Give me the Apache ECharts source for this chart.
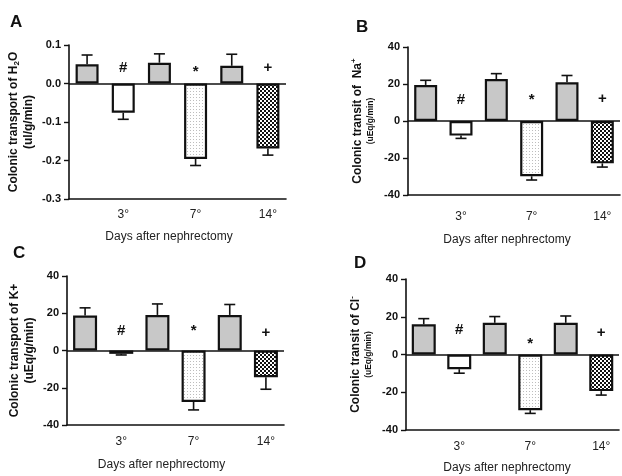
<!DOCTYPE html>
<html>
<head>
<meta charset="utf-8">
<script src="https://cdn.jsdelivr.net/npm/echarts@6/dist/echarts.min.js"></script>
<style>
html,body{margin:0;padding:0;background:#fff;}
#chart{width:622px;height:476px;}
</style>
</head>
<body>
<div id="chart"></div>
<script>
// ---------- DATA ----------
const categories = ['', '3°', '', '7°', '', '14°'];

// Panel A: H2O (ul/g/min)
const meanA = [0.050, -0.076, 0.054, -0.196, 0.046, -0.169];
const semA  = [0.024, 0.017, 0.023, 0.017, 0.030, 0.017];
// Panel B: Na+ (uEq/g/min)
const meanB = [19.5, -7.9, 22.7, -29.9, 20.9, -22.9];
const semB  = [2.5, 1.5, 2.9, 2.0, 3.7, 2.0];
// Panel C: K+ (uEq/g/min)
const meanC = [18.8, -1.8, 19.1, -27.6, 19.1, -14.4];
const semC  = [4.1, 0.6, 5.9, 4.3, 5.6, 6.4];
// Panel D: Cl- (uEq/g/min)
const meanD = [16.0, -7.8, 16.8, -29.5, 16.8, -19.4];
const semD  = [3.0, 2.1, 3.3, 1.7, 3.6, 2.1];

// significance marks (category index, label, y-position in data units)
const sigIndex  = [1, 3, 5];
const sigLabels = ['#', '*', '+'];
const sigPosA = [0.040, 0.030, 0.040];
const sigPosB = [11.5, 11.2, 12.0];
const sigPosC = [10.4, 10.4, 9.3];
const sigPosD = [13.2, 5.6, 11.6];

const panelLetters = ['A', 'B', 'C', 'D'];
const xTitle = 'Days after nephrectomy';

// ---------- STYLE ----------
const FONT = '"Liberation Sans", Arial, sans-serif';

function makePattern(kind) {
  const c = document.createElement('canvas');
  if (kind === 'dots') {
    c.width = 3; c.height = 3;
    const g = c.getContext('2d');
    g.fillStyle = '#ffffff'; g.fillRect(0, 0, 3, 3);
    g.fillStyle = '#bdbdbd'; g.fillRect(1, 1, 1, 1);
  } else {
    c.width = 4; c.height = 4;
    const g = c.getContext('2d');
    g.fillStyle = '#111111'; g.fillRect(0, 0, 4, 4);
    g.fillStyle = '#ffffff'; g.fillRect(0, 0, 2, 2); g.fillRect(2, 2, 2, 2);
  }
  return { image: c, repeat: 'repeat' };
}
const GRAY = '#c8c8c8';
const fills = [GRAY, '#ffffff', GRAY, makePattern('dots'), GRAY, makePattern('checker')];

const panels = [
  { mean: meanA, sem: semA, sig: sigPosA, min: -0.3, max: 0.1, interval: 0.1, dec: 1,
    grid: { left: 69, top: 45, width: 217, height: 154 }, barWidth: 23,
    name: '{a|Colonic transport of H}{s|2}{a|O}\n{a|(ul/g/min)}', nameGap: 33,
    labelMargin: 10, titleGap: 32, titlePadRight: 17, letterPos: { left: 10, top: 14 } },
  { mean: meanB, sem: semB, sig: sigPosB, min: -40, max: 40, interval: 20, dec: 0,
    grid: { left: 408, top: 47, width: 212, height: 148 }, barWidth: 23,
    name: '{a|Colonic transit of  Na}{p|+}\n{b|(uEq/g/min)}', nameGap: 31,
    labelMargin: 16, titleGap: 39, titlePadRight: 14, letterPos: { left: 356, top: 19 } },
  { mean: meanC, sem: semC, sig: sigPosC, min: -40, max: 40, interval: 20, dec: 0,
    grid: { left: 67, top: 276, width: 217, height: 149 }, barWidth: 24,
    name: '{a|Colonic transport of K+}\n{a|(uEq/g/min)}', nameGap: 30,
    labelMargin: 11, titleGap: 34, titlePadRight: 28, letterPos: { left: 13, top: 245 } },
  { mean: meanD, sem: semD, sig: sigPosD, min: -40, max: 40, interval: 20, dec: 0,
    grid: { left: 406, top: 279, width: 213, height: 151 }, barWidth: 24,
    name: '{a|Colonic transit of Cl}{p|-}\n{b|(uEq/g/min)}', nameGap: 31,
    labelMargin: 11, titleGap: 32, titlePadRight: 11, letterPos: { left: 354, top: 255 } }
];

const richName = {
  a: { fontFamily: FONT, fontSize: 12, fontWeight: 'bold', color: '#111', lineHeight: 15 },
  b: { fontFamily: FONT, fontSize: 8.5, fontWeight: 'bold', color: '#111', lineHeight: 12 },
  s: { fontFamily: FONT, fontSize: 8, fontWeight: 'bold', color: '#111', lineHeight: 15, verticalAlign: 'bottom', padding: [6, 0, 0, 0] },
  p: { fontFamily: FONT, fontSize: 8, fontWeight: 'bold', color: '#111', lineHeight: 15, verticalAlign: 'top', padding: [0, 0, 6, 0] }
};

const option = {
  animation: false,
  backgroundColor: '#ffffff',
  title: panels.map((p, i) => ({
    text: panelLetters[i], left: p.letterPos.left, top: p.letterPos.top, padding: 0,
    textStyle: { fontFamily: FONT, fontSize: 17, fontWeight: 'bold', color: '#111' }
  })),
  grid: panels.map(p => Object.assign({ containLabel: false }, p.grid)),
  xAxis: panels.map((p, i) => ({
    type: 'category', gridIndex: i, data: categories,
    axisLine: { onZero: false, lineStyle: { color: '#111', width: 1.6 } },
    axisTick: { alignWithLabel: true, length: 5, lineStyle: { color: '#111', width: 1.4 } },
    axisLabel: { interval: 0, margin: p.labelMargin, fontFamily: FONT, fontSize: 12, color: '#222' },
    name: xTitle, nameLocation: 'middle', nameGap: p.titleGap,
    nameTextStyle: { fontFamily: FONT, fontSize: 12, color: '#222', padding: [0, p.titlePadRight, 0, 0] }
  })),
  yAxis: panels.map((p, i) => ({
    type: 'value', gridIndex: i, min: p.min, max: p.max, interval: p.interval,
    splitLine: { show: false },
    axisLine: { show: true, lineStyle: { color: '#111', width: 1.6 } },
    axisTick: { show: true, length: 5, lineStyle: { color: '#111', width: 1.4 } },
    axisLabel: {
      margin: 8, fontFamily: FONT, fontSize: 11, fontWeight: 'bold', color: '#111',
      formatter: v => (Math.abs(v) < 1e-9 ? 0 : v).toFixed(p.dec)
    },
    name: p.name, nameLocation: 'middle', nameGap: p.nameGap, nameRotate: 90,
    nameTextStyle: { rich: richName }
  })),
  series: []
};

panels.forEach((p, i) => {
  option.series.push({
    type: 'bar', xAxisIndex: i, yAxisIndex: i, barWidth: p.barWidth,
    data: p.mean.map((v, k) => ({
      value: v,
      itemStyle: { color: fills[k], borderColor: '#111', borderWidth: 2.2 }
    })),
    markLine: {
      silent: true, symbol: 'none', label: { show: false },
      lineStyle: { color: '#111', width: 1.5, type: 'solid' },
      data: [{ yAxis: 0 }]
    },
    z: 2
  });
  option.series.push({
    type: 'custom', xAxisIndex: i, yAxisIndex: i, z: 3,
    data: p.mean.map((v, k) => [k, v, p.sem[k]]),
    renderItem: (params, api) => {
      const x = api.value(0), m = api.value(1), s = api.value(2);
      const end = m + (m >= 0 ? s : -s);
      const p0 = api.coord([x, m]);
      const p1 = api.coord([x, end]);
      const st = { stroke: '#111', lineWidth: 1.6 };
      return {
        type: 'group',
        children: [
          { type: 'line', shape: { x1: p0[0], y1: p0[1], x2: p1[0], y2: p1[1] }, style: st },
          { type: 'line', shape: { x1: p1[0] - 5.5, y1: p1[1], x2: p1[0] + 5.5, y2: p1[1] }, style: st }
        ]
      };
    }
  });
  option.series.push({
    type: 'custom', xAxisIndex: i, yAxisIndex: i, z: 4,
    data: sigIndex.map((k, j) => [k, p.sig[j], j]),
    renderItem: (params, api) => {
      const pt = api.coord([api.value(0), api.value(1)]);
      return {
        type: 'text',
        style: {
          text: sigLabels[api.value(2)], x: pt[0], y: pt[1],
          align: 'center', verticalAlign: 'middle',
          fontFamily: FONT, fontSize: 15, fontWeight: 'bold', fill: '#111'
        }
      };
    }
  });
});

const chart = echarts.init(document.getElementById('chart'), null, { renderer: 'canvas' });
chart.setOption(option);
</script>
</body>
</html>
